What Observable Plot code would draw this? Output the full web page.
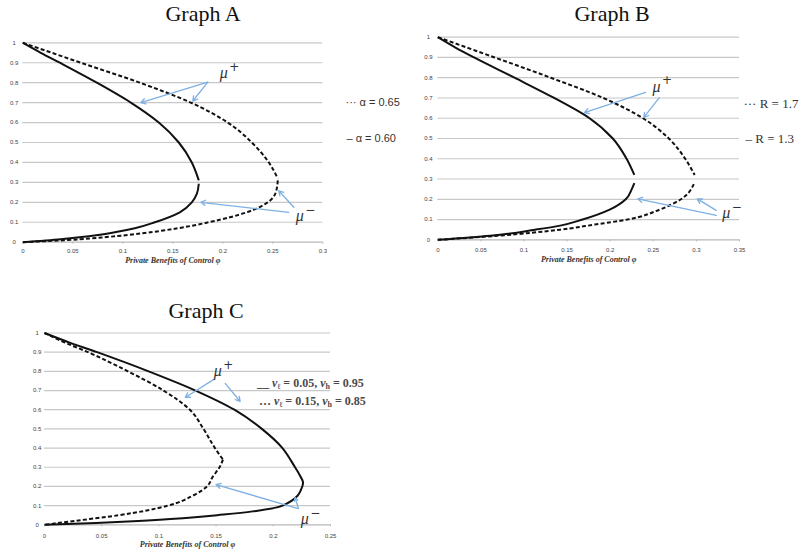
<!DOCTYPE html>
<html><head><meta charset="utf-8">
<script src="https://cdn.jsdelivr.net/npm/d3@7"></script>
<script src="https://cdn.jsdelivr.net/npm/@observablehq/plot@0.6"></script>
<style>
body{margin:0;background:#fff}
#page{position:relative;width:801px;height:558px;overflow:hidden;background:#fff}
.panel{position:absolute}
.title{position:absolute;font-family:"Liberation Serif",serif;font-size:22px;line-height:22px;color:#111;transform:translateX(-50%);white-space:nowrap;z-index:2}
.leg{position:absolute;font-family:"Liberation Serif",serif;font-weight:bold;font-size:12px;color:#4a4a4a;white-space:nowrap;line-height:14px;z-index:2}
.leg i{font-style:italic}
.leg sub{font-size:8px;vertical-align:-2px;line-height:0}
</style></head>
<body><div id="page">
<div class="panel" id="pA" style="left:0px;top:30px"></div>
<div class="panel" id="pB" style="left:400px;top:25px"></div>
<div class="panel" id="pC" style="left:0px;top:315px"></div>
<div class="title" style="left:203px;top:3px">Graph A</div>
<div class="title" style="left:612px;top:3px">Graph B</div>
<div class="title" style="left:206px;top:300px">Graph C</div>
<div class="leg" style="left:257px;top:376px">__ <i>v</i><sub>ℓ</sub> = 0.05, <i>v</i><sub>h</sub> = 0.95</div>
<div class="leg" style="left:259px;top:394px">… <i>v</i><sub>ℓ</sub> = 0.15, <i>v</i><sub>h</sub> = 0.85</div>
</div>
<script>
// ---------- data (x = private benefits φ, y = μ) ----------
const yTicks = [0,0.1,0.2,0.3,0.4,0.5,0.6,0.7,0.8,0.9,1];
const xTicksA = [0,0.05,0.1,0.15,0.2,0.25,0.3];
const xTicksB = [0,0.05,0.1,0.15,0.2,0.25,0.3,0.35];
const xTicksC = [0,0.05,0.1,0.15,0.2,0.25];
const axisTitle = "Private Benefits of Control φ";

// Graph A: solid α = 0.60, dashed α = 0.65
const A_solid_upper = [[0,1],[0.018,0.95],[0.037,0.9],[0.074,0.8],[0.108,0.7],[0.136,0.6],[0.156,0.5],[0.169,0.4],[0.176,0.31]];
const A_solid_lower = [[0.176,0.293],[0.174,0.242],[0.169,0.2],[0.157,0.15],[0.132,0.1],[0.112,0.07],[0.092,0.05],[0.066,0.03],[0.038,0.015],[0,0]];
const A_dashed_upper = [[0,1],[0.029,0.95],[0.058,0.9],[0.117,0.8],[0.168,0.7],[0.205,0.6],[0.229,0.5],[0.246,0.4],[0.255,0.32]];
const A_dashed_lower = [[0.255,0.31],[0.253,0.25],[0.245,0.2],[0.224,0.15],[0.186,0.1],[0.155,0.07],[0.12,0.045],[0.084,0.026],[0.045,0.011],[0,0]];
const A_arrows = [[0.185,0.803,0.118,0.70],[0.185,0.803,0.170,0.708],[0.266,0.15,0.178,0.20],[0.271,0.175,0.256,0.258]];
const A_mu = [[0.197,0.85,"+"],[0.273,0.133,"−"]];
const A_legend = [[0.3227,0.70,"··· α = 0.65"],[0.3237,0.522,"– α = 0.60"]];

// Graph B: solid R = 1.3, dashed R = 1.7
const B_solid_upper = [[0,1],[0.02,0.95],[0.042,0.9],[0.089,0.8],[0.135,0.7],[0.176,0.6],[0.203,0.5],[0.219,0.4],[0.228,0.32]];
const B_solid_lower = [[0.228,0.28],[0.225,0.25],[0.218,0.2],[0.2,0.15],[0.168,0.1],[0.142,0.07],[0.113,0.05],[0.061,0.02],[0,0]];
const B_dashed_upper = [[0,1],[0.033,0.95],[0.066,0.9],[0.131,0.8],[0.192,0.7],[0.238,0.6],[0.268,0.5],[0.287,0.4],[0.298,0.32]];
const B_dashed_lower = [[0.297,0.275],[0.282,0.2],[0.258,0.15],[0.22,0.1],[0.182,0.075],[0.142,0.05],[0.069,0.02],[0,0]];
const B_arrows = [[0.241,0.728,0.170,0.628],[0.257,0.702,0.239,0.604],[0.323,0.12,0.232,0.202],[0.323,0.145,0.301,0.202]];
const B_mu = [[0.249,0.757,"+"],[0.33,0.132,"−"]];
const B_legend = [[0.3546,0.673,"··· R = 1.7"],[0.357,0.50,"– R = 1.3"]];

// Graph C: solid vℓ=0.05, vh=0.95 ; dashed vℓ=0.15, vh=0.85
const C_solid = [[0,1],[0.022,0.95],[0.046,0.9],[0.091,0.8],[0.132,0.7],[0.166,0.6],[0.190,0.5],[0.208,0.4],[0.219,0.3],[0.223,0.26],[0.226,0.22],[0.224,0.18],[0.221,0.15],[0.208,0.1],[0.182,0.07],[0.151,0.05],[0.11,0.03],[0.082,0.02],[0.045,0.01],[0,0]];
const C_dashed_upper = [[0,1],[0.018,0.95],[0.038,0.9],[0.073,0.8],[0.104,0.7],[0.127,0.6],[0.139,0.5],[0.149,0.4],[0.156,0.34]];
const C_dashed_lower = [[0.156,0.34],[0.153,0.3],[0.147,0.25],[0.142,0.2],[0.129,0.15],[0.108,0.1],[0.065,0.05],[0.026,0.02],[0,0]];
const C_arrows = [[0.148,0.758,0.123,0.664],[0.158,0.737,0.171,0.643],[0.221,0.085,0.150,0.21],[0.222,0.085,0.219,0.142]];
const C_mu = [[0.148,0.80,"+"],[0.224,0.03,"−"]];

// ---------- drawing ----------
const fmt = d => String(+d.toFixed(2));
const lineOpts = (curve, dash) => ({x: d => d[0], y: d => d[1], stroke: "#111", strokeWidth: 2, curve,
  strokeLinecap: "butt", strokeDasharray: dash ? "4,2.3" : null});
function graph(o) {
  const solid = o.solid.map(([b, c]) => Plot.line(b, lineOpts(c, false)));
  const dashed = o.dashed.map(([b, c]) => Plot.line(b, lineOpts(c, true)));
  return Plot.plot({
    width: o.width, height: o.height,
    marginLeft: o.ml, marginRight: o.mr, marginTop: o.mt, marginBottom: o.mb,
    x: {domain: [0, o.xmax]}, y: {domain: [0, 1]},
    style: {fontFamily: "Liberation Sans, sans-serif", color: "#444", background: "white", overflow: "visible"},
    marks: [
      Plot.gridY(yTicks.filter(d => d > 0), {stroke: "#c8c8c8", strokeOpacity: 1, strokeWidth: 1.2}),
      Plot.ruleY([0], {stroke: "#b8b8b8", strokeWidth: 1.2}),
      Plot.axisY({ticks: yTicks, tickSize: 0, tickPadding: o.yPad, textAnchor: "middle", fontSize: 6, tickFormat: fmt}),
      Plot.axisX({ticks: o.xticks, tickSize: 2, tickPadding: o.xPad, fontSize: 6, stroke: "#b8b8b8", tickFormat: fmt}),
      Plot.text([axisTitle], {frameAnchor: "bottom", dy: o.titleDy, text: d => d, fontSize: 8, fontWeight: "bold", fontStyle: "italic", fontFamily: "Liberation Serif, serif", fill: "#333"}),
      ...solid, ...dashed,
      Plot.arrow(o.arrows, {x1: d => d[0], y1: d => d[1], x2: d => d[2], y2: d => d[3], stroke: "#7eb0e3", strokeWidth: 1.3, headLength: 6, bend: 0}),
      Plot.text(o.mu, {x: d => d[0], y: d => d[1], text: () => "μ", textAnchor: "start", fontSize: 16, fontStyle: "italic", fontFamily: "Liberation Serif, serif", fill: "#333"}),
      Plot.text(o.mu, {x: d => d[0], y: d => d[1], text: d => d[2], textAnchor: "start", dx: 9.5, dy: -6, fontSize: 12, fontFamily: "DejaVu Sans, sans-serif", fill: "#333"}),
      Plot.text(o.legend || [], {x: d => d[0], y: d => d[1], text: d => d[2], textAnchor: "start", fontSize: o.legendSize || 11, fontFamily: o.legendFont || "Liberation Sans, sans-serif", fill: "#333"})
    ]
  });
}

document.getElementById("pA").append(graph({
  width: 400, height: 245, ml: 22.3, mr: 77.7, mt: 12.3, mb: 33.3, xmax: 0.3, xticks: xTicksA,
  yPad: 8.6, xPad: 5, titleDy: 21,
  solid: [[A_solid_upper, "monotone-y"], [A_solid_lower, "monotone-y"]],
  dashed: [[A_dashed_upper, "monotone-y"], [A_dashed_lower, "monotone-y"]],
  arrows: A_arrows, mu: A_mu, legend: A_legend
}));
document.getElementById("pB").append(graph({
  width: 401, height: 245, ml: 37.3, mr: 62, mt: 11.7, mb: 30.7, xmax: 0.35, xticks: xTicksB,
  yPad: 9.3, xPad: 6, titleDy: 22.4,
  solid: [[B_solid_upper, "monotone-y"], [B_solid_lower, "monotone-y"]],
  dashed: [[B_dashed_upper, "monotone-y"], [B_dashed_lower, "monotone-y"]],
  arrows: B_arrows, mu: B_mu, legend: B_legend, legendSize: 13, legendFont: "Liberation Serif, serif"
}));
document.getElementById("pC").append(graph({
  width: 420, height: 240, ml: 44, mr: 90, mt: 17.5, mb: 30.7, xmax: 0.25, xticks: xTicksC,
  yPad: 7.3, xPad: 6.5, titleDy: 22.4,
  solid: [[C_solid, "catmull-rom"]],
  dashed: [[C_dashed_upper, "monotone-y"], [C_dashed_lower, "monotone-y"]],
  arrows: C_arrows, mu: C_mu
}));
</script>
</body></html>
